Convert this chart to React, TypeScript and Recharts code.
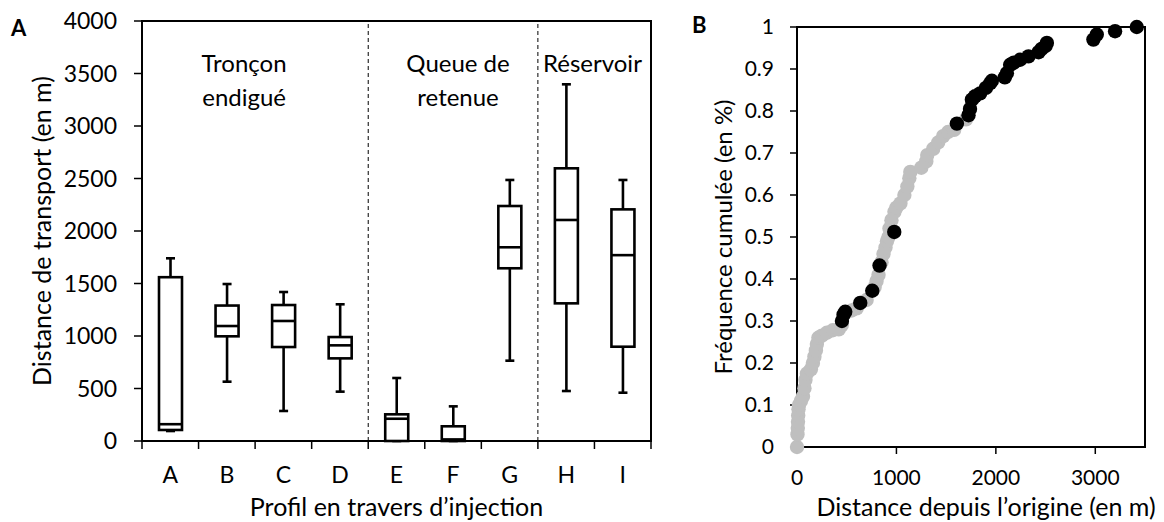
import React from 'react';
import {
  ComposedChart,
  Bar,
  XAxis,
  YAxis,
  ReferenceLine,
  ReferenceArea,
  ScatterChart,
  Scatter,
} from 'recharts';

// ---------- Panel A data ----------
const categories = ['A', 'B', 'C', 'D', 'E', 'F', 'G', 'H', 'I'];
const whiskerLow = [95, 565, 286, 470, 0, 0, 765, 476, 460];
const quartile1 = [105, 997, 895, 787, 0, 0, 1645, 1311, 898];
const medians = [160, 1095, 1143, 911, 212, 15, 1845, 2105, 1770];
const quartile3 = [1560, 1290, 1295, 990, 254, 140, 2238, 2597, 2206];
const whiskerHigh = [1740, 1495, 1419, 1302, 600, 330, 2486, 3397, 2486];
const yTicksA = [0, 500, 1000, 1500, 2000, 2500, 3000, 3500, 4000];
const boundaryTicksA = [0, 1, 2, 3, 4, 5, 6, 7, 8, 9];
const sectionDividers = [4, 7];
const sectionLabels = [
  { lines: ['Tronçon', 'endigué'], from: 0, to: 4, shift: -11 },
  { lines: ['Queue de', 'retenue'], from: 4, to: 7, shift: 5 },
  { lines: ['Réservoir'], from: 7, to: 9, shift: -2 },
];

// ---------- Panel B data ----------
const grayDistance = [
  0, 5, 8, 10, 12, 15, 20, 40, 60, 75, 85, 100, 140, 160, 175, 190, 200, 215, 250, 300,
  360, 420, 450, 550, 600, 700, 780, 800, 820, 850, 870, 890, 905, 920, 930, 950, 980,
  1000, 1040, 1080, 1110, 1130, 1140, 1250, 1300, 1310, 1370, 1420, 1470, 1520, 1580, 1700,
];
const grayFrequency = [
  0, 0.03, 0.045, 0.06, 0.075, 0.09, 0.1, 0.11, 0.12, 0.14, 0.16, 0.175, 0.185, 0.2, 0.215,
  0.23, 0.245, 0.26, 0.265, 0.272, 0.278, 0.28, 0.29, 0.325, 0.33, 0.35, 0.38, 0.395, 0.41,
  0.44, 0.46, 0.475, 0.49, 0.5, 0.52, 0.54, 0.56, 0.57, 0.58, 0.6, 0.62, 0.64, 0.655, 0.665,
  0.68, 0.695, 0.71, 0.725, 0.74, 0.75, 0.755, 0.78,
];
const blackDistance = [
  452, 468, 485, 636, 757, 830, 978, 1608, 1725, 1740, 1759, 1790, 1842, 1900, 1943, 1960,
  2090, 2111, 2144, 2180, 2244, 2328, 2430, 2460, 2500, 2513, 2981, 3015, 3199, 3417,
];
const blackFrequency = [
  0.3, 0.315, 0.322, 0.343, 0.372, 0.432, 0.512, 0.77, 0.79, 0.805, 0.827, 0.835, 0.842,
  0.855, 0.866, 0.872, 0.88, 0.89, 0.91, 0.915, 0.922, 0.93, 0.94, 0.948, 0.955, 0.962,
  0.97, 0.982, 0.99, 1.0,
];
const xTicksB = [0, 1000, 2000, 3000];
const yTicksB = [0, 0.1, 0.2, 0.3, 0.4, 0.5, 0.6, 0.7, 0.8, 0.9, 1];

const FONT = 'Lato, "Open Sans", sans-serif';
const FS_TICK_A = 23;
const FS_TICK_B = 21;
const FS_TITLE = 25;
const FS_NOTE = 24;

const EDGE = 'a_edges';
const LABELS = 'b_labels';

const boxData = categories.map((name, i) => ({
  name,
  pos: i + 0.5,
  range: [whiskerLow[i], whiskerHigh[i]],
  min: whiskerLow[i],
  q1: quartile1[i],
  median: medians[i],
  q3: quartile3[i],
  max: whiskerHigh[i],
}));

const grayData = grayDistance.map((x, i) => ({ x, y: grayFrequency[i] }));
const blackData = blackDistance.map((x, i) => ({ x, y: blackFrequency[i] }));

const BoxShape = (props: any) => {
  const { x, y, width, height, payload } = props;
  if (!payload) return null;
  const { min, q1, median, q3, max } = payload;
  const top = Math.min(y, y + height);
  const bottom = Math.max(y, y + height);
  const span = max - min || 1;
  const toY = (v: number) => bottom - ((bottom - top) * (v - min)) / span;
  const cx = x + width / 2;
  const capHalf = 4.5;
  const sw = 2.6;
  return (
    <g stroke="#000" strokeWidth={sw} fill="none">
      <line x1={cx} x2={cx} y1={toY(max)} y2={toY(q3)} />
      <line x1={cx} x2={cx} y1={toY(q1)} y2={toY(min)} />
      <line x1={cx - capHalf} x2={cx + capHalf} y1={toY(max)} y2={toY(max)} />
      <line x1={cx - capHalf} x2={cx + capHalf} y1={toY(min)} y2={toY(min)} />
      <rect x={x} y={toY(q3)} width={width} height={toY(q1) - toY(q3)} fill="#fff" />
      <line x1={x} x2={x + width} y1={toY(median)} y2={toY(median)} />
    </g>
  );
};

const GrayDot = (props: any) => <circle cx={props.cx} cy={props.cy} r={7.2} fill="#BFBFBF" />;
const BlackDot = (props: any) => <circle cx={props.cx} cy={props.cy} r={7.2} fill="#000" />;
const NoTick = () => <g />;

const yTitle = (text: string, offsetX: number, fontSize: number) => (props: any) => {
  const vb = props.viewBox || {};
  const x = vb.x + offsetX;
  const y = vb.y + vb.height / 2;
  return (
    <text
      x={x}
      y={y}
      transform={`rotate(-90 ${x} ${y})`}
      textAnchor="middle"
      dominantBaseline="central"
      fontSize={fontSize}
      fontFamily={FONT}
      fill="#000"
    >
      {text}
    </text>
  );
};

const xTitle = (text: string, baselineFromBottom: number, dx: number, fontSize: number) => (props: any) => {
  const vb = props.viewBox || {};
  const x = vb.x + vb.width / 2 + dx;
  const y = vb.y + vb.height - baselineFromBottom;
  return (
    <text x={x} y={y} textAnchor="middle" fontSize={fontSize} fontFamily={FONT} fill="#000">
      {text}
    </text>
  );
};

const sectionLabel = (lines: string[], shift: number) => (props: any) => {
  const vb = props.viewBox || {};
  const x = vb.x + vb.width / 2 + shift;
  return (
    <text textAnchor="middle" fontSize={FS_NOTE} fontFamily={FONT} fill="#000">
      {lines.map((l, i) => (
        <tspan key={i} x={x} y={vb.y + 51 + i * 34}>
          {l}
        </tspan>
      ))}
    </text>
  );
};

const PanelA = () => (
  <ComposedChart
    width={700}
    height={522}
    data={boxData}
    margin={{ top: 21, right: 49, bottom: 0, left: 0 }}
  >
    <XAxis
      xAxisId={EDGE}
      dataKey="pos"
      type="number"
      domain={[0, 9]}
      ticks={boundaryTicksA}
      interval={0}
      tick={<NoTick />}
      tickSize={8}
      tickLine={{ stroke: '#000', strokeWidth: 1.5 }}
      axisLine={{ stroke: '#000', strokeWidth: 2 }}
      height={1}
      allowDataOverflow
    />
    <XAxis
      xAxisId={LABELS}
      dataKey="name"
      type="category"
      tickLine={false}
      axisLine={false}
      tickSize={8}
      tickMargin={17}
      interval={0}
      height={80}
      tick={{ fill: '#000', fontSize: FS_TICK_A, fontFamily: FONT }}
      label={xTitle('Profil en travers d\u2019injection', 6, 0, FS_TITLE)}
    />
    <YAxis
      width={142}
      domain={[0, 4000]}
      ticks={yTicksA}
      interval={0}
      tickSize={8}
      tickMargin={17}
      tickLine={{ stroke: '#000', strokeWidth: 1.5 }}
      axisLine={{ stroke: '#000', strokeWidth: 2 }}
      tick={{ fill: '#000', fontSize: FS_TICK_A, fontFamily: FONT }}
      label={yTitle('Distance de transport (en m)', 41, FS_TITLE)}
    />
    {sectionLabels.map((s, i) => (
      <ReferenceArea
        key={i}
        xAxisId={EDGE}
        x1={s.from}
        x2={s.to}
        y1={0}
        y2={4000}
        fill="none"
        stroke="none"
        ifOverflow="visible"
        label={sectionLabel(s.lines, s.shift)}
      />
    ))}
    {sectionDividers.map((d) => (
      <ReferenceLine key={d} xAxisId={EDGE} x={d} stroke="#000" strokeWidth={1} strokeDasharray="4 3" />
    ))}
    <ReferenceArea
      xAxisId={EDGE}
      x1={0}
      x2={9}
      y1={0}
      y2={4000}
      fill="none"
      stroke="#000"
      strokeWidth={2}
      ifOverflow="visible"
    />
    <Bar xAxisId={LABELS} dataKey="range" barSize={23} shape={<BoxShape />} isAnimationActive={false} />
  </ComposedChart>
);

const PanelB = () => (
  <ScatterChart width={464} height={522} margin={{ top: 27, right: 19, bottom: 0, left: 0 }}>
    <XAxis
      type="number"
      dataKey="x"
      domain={[0, 3500]}
      ticks={xTicksB}
      interval={0}
      tickSize={7}
      tickMargin={16}
      height={75}
      tickLine={{ stroke: '#000', strokeWidth: 1.5 }}
      axisLine={{ stroke: '#000', strokeWidth: 2 }}
      tick={{ fill: '#000', fontSize: FS_TICK_B, fontFamily: FONT }}
      label={xTitle('Distance depuis l\u2019origine (en m)', 6, 15, FS_TITLE)}
    />
    <YAxis
      type="number"
      dataKey="y"
      width={97}
      domain={[0, 1]}
      ticks={yTicksB}
      interval={0}
      tickSize={7}
      tickMargin={16}
      tickFormatter={(v: number) => String(Number(v.toFixed(1)))}
      tickLine={{ stroke: '#000', strokeWidth: 1.5 }}
      axisLine={{ stroke: '#000', strokeWidth: 2 }}
      tick={{ fill: '#000', fontSize: FS_TICK_B, fontFamily: FONT }}
      label={yTitle('Fréquence cumulée (en %)', 22, 24)}
    />
    <ReferenceArea x1={0} x2={3500} y1={0} y2={1} fill="none" stroke="#000" strokeWidth={2} />
    <Scatter data={grayData} shape={<GrayDot />} isAnimationActive={false} />
    <Scatter data={blackData} shape={<BlackDot />} isAnimationActive={false} />
  </ScatterChart>
);

export default function App() {
  return (
    <div
      style={{
        position: 'absolute',
        left: 0,
        top: 0,
        width: 1164,
        height: 522,
        background: '#fff',
        overflow: 'hidden',
      }}
    >
      <div style={{ position: 'absolute', left: 0, top: 0 }}>
        <PanelA />
      </div>
      <div style={{ position: 'absolute', left: 700, top: 0 }}>
        <PanelB />
      </div>
      <svg
        width={1164}
        height={522}
        style={{ position: 'absolute', left: 0, top: 0, pointerEvents: 'none' }}
      >
        <text x={11} y={36} fontSize={22} fontWeight="bold" fontFamily={FONT} fill="#000">
          A
        </text>
        <text x={692} y={33} fontSize={22} fontWeight="bold" fontFamily={FONT} fill="#000">
          B
        </text>
      </svg>
    </div>
  );
}
